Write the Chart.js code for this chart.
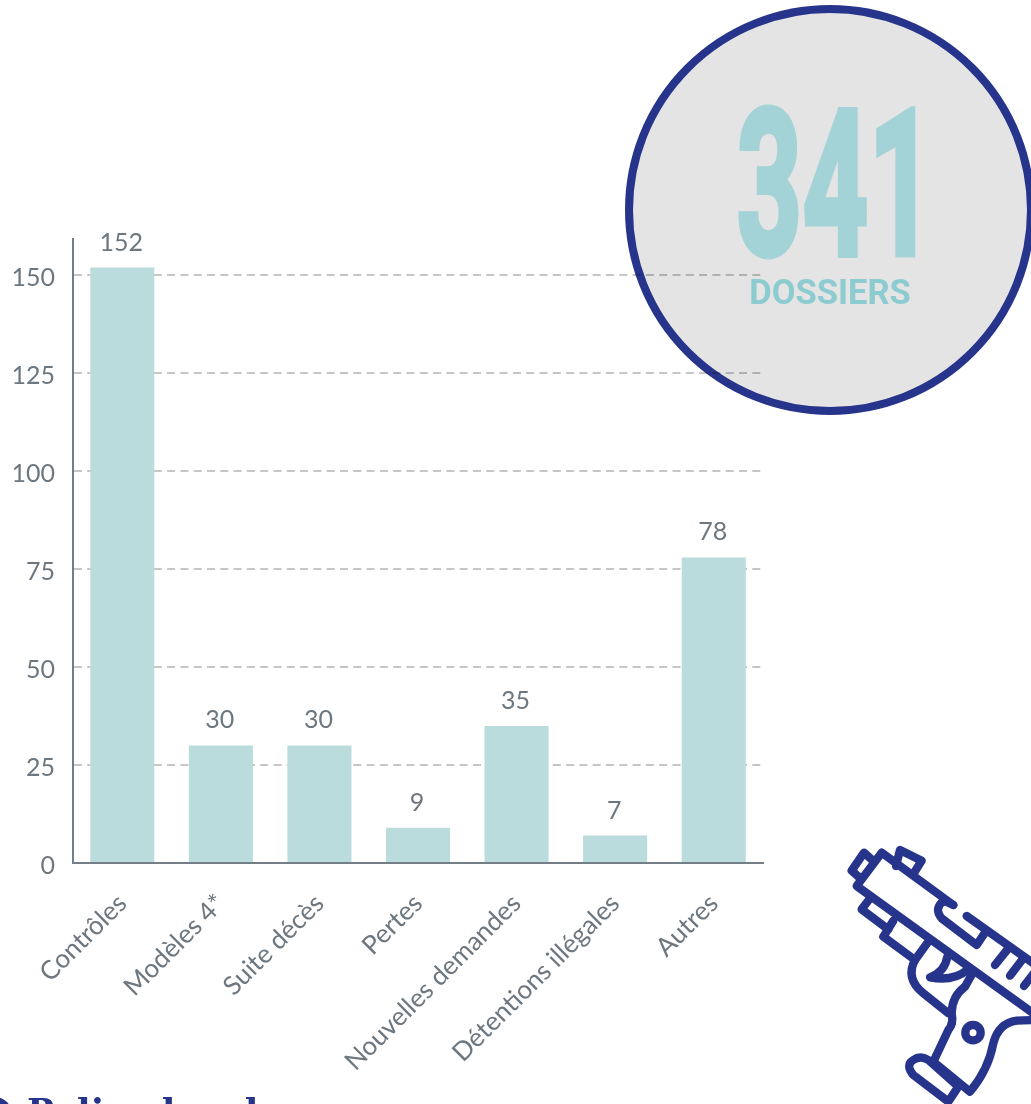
<!DOCTYPE html>
<html lang="fr">
<head>
<meta charset="utf-8">
<title>341 dossiers</title>
<script src="https://cdn.jsdelivr.net/npm/chart.js@4"></script>
<style>
    html, body { margin: 0; padding: 0; background: #fff; }
    #page { position: relative; width: 1031px; height: 1104px; overflow: hidden; }
    #chart { position: absolute; left: 0; top: 0; }
    #circle {
        position: absolute; left: 625px; top: 5px; width: 394px; height: 394px;
        border: 8px solid #27348b; border-radius: 50%; background: #e4e4e4;
        mix-blend-mode: multiply;
    }
    #total {
        position: absolute; left: 836px; top: 84px; color: #a4d3d7;
        font: 700 202px/1 Roboto, sans-serif; white-space: nowrap;
        -webkit-text-stroke: 7px #a4d3d7;
        transform: translateX(-50%) scaleX(0.56); letter-spacing: 2px;
    }
    #unit {
        position: absolute; left: 830px; top: 275px; color: #8ccbcf;
        font: 700 34.5px/1 Roboto, sans-serif; white-space: nowrap;
        transform: translateX(-50%);
    }
    #heading {
        position: absolute; left: 27px; top: 1093px; color: #27348b;
        font: 700 36px/1 "DejaVu Serif", serif; white-space: nowrap;
    }
    #bullet {
        position: absolute; left: -22px; top: 1097px; width: 20px; height: 20px;
        border: 7px solid #27348b; border-radius: 50%;
    }
    #gun { position: absolute; left: 820px; top: 830px; width: 211px; height: 274px; }
</style>
</head>
<body>
<div id="page">
    <canvas id="chart" width="1031" height="1104"></canvas>
    <div id="circle"></div>
    <div id="total">341</div>
    <div id="unit">DOSSIERS</div>
    <div id="bullet"></div>
    <div id="heading">Police locale</div>
    <svg id="gun" viewBox="0 0 633 822" fill="none" stroke="#27348b" stroke-width="25" stroke-linecap="round" stroke-linejoin="round">
        <path d="M400 225 L185 68 L110 168 L640 550"/>
        <path d="M162 95 L132 68 L95 122 L122 146"/>
        <path d="M228 108 L240 60 L305 92 L280 132"/>
        <path d="M400 225 L372 212 Q340 235 365 265 L470 345 L497 305"/>
        <path d="M440 258 L640 400"/>
        <path d="M525 405 L565 355 M570 437 L610 385 M612 468 L640 432"/>
        <path d="M148 208 L125 238 L205 298"/>
        <path d="M220 272 L190 320 L285 390"/>
        <path d="M325 335 L285 390 Q255 445 310 490 L385 550"/>
        <path d="M382 380 Q375 425 330 442 Q400 455 442 420"/>
        <path d="M460 425 L435 470 Q395 500 395 550 Q402 580 385 600 L340 695"/>
        <path d="M340 695 L450 785 Q505 720 520 640 Q535 580 590 572 L640 570"/>
        <path d="M415 770 L385 815 L280 735 Q255 705 280 690 Q300 675 325 690 L415 770"/>
        <circle cx="459" cy="608" r="23"/>
    </svg>
</div>
<script>
const categories = ['Contrôles', 'Modèles 4*', 'Suite décès', 'Pertes', 'Nouvelles demandes', 'Détentions illégales', 'Autres'];
const dossiers = [152, 30, 30, 9, 35, 7, 78];
const yTicks = [0, 25, 50, 75, 100, 125, 150];

const textColor = '#6c7780';
const axisColor = '#747e86';

// value above each bar
const barValues = {
    id: 'barValues',
    afterDatasetsDraw(chart) {
        const ctx = chart.ctx;
        const meta = chart.getDatasetMeta(0);
        ctx.save();
        ctx.font = '25px Lato';
        ctx.fillStyle = textColor;
        ctx.textAlign = 'center';
        ctx.textBaseline = 'alphabetic';
        meta.data.forEach((bar, i) => {
            ctx.fillText(dossiers[i], bar.x - 1, bar.y - 17);
        });
        ctx.restore();
    }
};

new Chart(document.getElementById('chart'), {
    type: 'bar',
    data: {
        labels: categories,
        datasets: [{
            data: dossiers,
            backgroundColor: '#bbdcdd',
            barPercentage: 0.65,
            categoryPercentage: 1,
        }]
    },
    options: {
        responsive: false,
        animation: false,
        layout: { padding: { left: 0, top: 239, right: 268, bottom: 0 } },
        plugins: { legend: { display: false }, tooltip: { enabled: false } },
        scales: {
            x: {
                grid: { display: false },
                border: { color: axisColor, width: 2 },
                ticks: {
                    color: textColor,
                    font: { family: 'Lato', size: 26 },
                    minRotation: 45,
                    maxRotation: 45,
                    padding: 17,
                    autoSkip: false,
                },
                afterFit(scale) { scale.height = 241; },
            },
            y: {
                min: 0,
                max: 159.3,
                afterBuildTicks(scale) { scale.ticks = yTicks.map(value => ({ value })); },
                grid: { color: '#c6c6c6', lineWidth: 2, drawTicks: false },
                border: { color: axisColor, width: 2, dash: [8, 5.3] },
                ticks: {
                    color: textColor,
                    font: { family: 'Lato', size: 25 },
                    padding: 18,
                    labelOffset: 2.5,
                },
                afterFit(scale) { scale.width = 73; },
            },
        },
    },
    plugins: [barValues],
});
</script>
</body>
</html>
